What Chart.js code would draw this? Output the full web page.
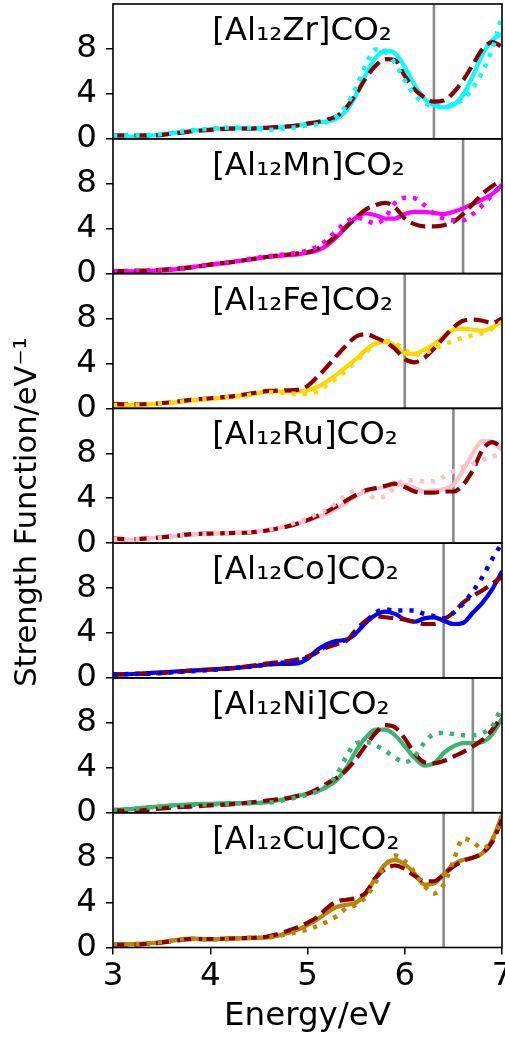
<!DOCTYPE html>
<html>
<head>
<meta charset="utf-8">
<script src="https://cdn.jsdelivr.net/npm/chart.js@4.4.1/dist/chart.umd.min.js"></script>
<style>
  html, body { margin: 0; padding: 0; background: #ffffff; }
  canvas { display: block; }
</style>
</head>
<body>
<canvas id="chart" width="505" height="1039"></canvas>
<script>
// Photon energy grid (eV)
const energy = [3.0, 3.2, 3.4, 3.6, 3.8, 4.0, 4.2, 4.4, 4.6, 4.8, 4.9, 5.0, 5.1, 5.2, 5.3, 5.4,
                5.5, 5.6, 5.7, 5.8, 5.9, 6.0, 6.1, 6.2, 6.3, 6.4, 6.5, 6.6, 6.7, 6.8, 6.9, 7.0];

const panelTitles = ['[Al₁₂Zr]CO₂', '[Al₁₂Mn]CO₂', '[Al₁₂Fe]CO₂', '[Al₁₂Ru]CO₂',
                     '[Al₁₂Co]CO₂', '[Al₁₂Ni]CO₂', '[Al₁₂Cu]CO₂'];

// Strength function (eV^-1), one array per cluster and curve type
const solidZr  = [0.2,0.2,0.3,0.5,0.7, 0.85,0.95,0.95,0.95,1.1, 1.2,1.35,1.45,1.55,1.8, 2.5,3.9,5.7,7.2,7.85, 7.6,6.4,4.8,3.6,3.0, 2.8,3.0,3.9,5.6,7.5, 8.8,9.3];
const dottedZr = [0.3,0.3,0.35,0.5,0.75, 0.9,1.0,0.95,0.8,0.95, 1.05,1.2,1.3,1.5,2.0, 3.0,4.6,6.6,7.95,7.7, 6.7,5.2,3.9,3.2,2.9, 2.9,3.1,3.5,4.5,6.0, 8.0,11.0];
const dashedZr = [0.3,0.3,0.3,0.45,0.65, 0.8,0.9,0.9,1.0,1.1, 1.2,1.35,1.5,1.7,2.0, 2.8,4.0,5.4,6.5,7.1, 7.0,5.6,4.4,3.7,3.3, 3.4,4.1,5.2,6.6,8.0, 8.6,8.2];

const solidMn  = [0.2,0.2,0.25,0.35,0.55, 0.8,1.0,1.25,1.5,1.65, 1.7,1.85,2.05,2.5,3.25, 4.15,5.0,5.35,5.2,4.9, 4.9,5.3,5.5,5.5,5.4, 5.3,5.5,5.8,6.2,6.6, 7.1,7.9];
const dottedMn = [0.2,0.2,0.25,0.35,0.55, 0.8,1.0,1.3,1.55,1.75, 1.85,2.05,2.4,3.0,3.85, 4.6,5.0,4.75,4.45,5.0, 6.3,6.75,6.7,6.1,5.35, 4.9,4.75,4.75,5.3,6.1, 7.0,7.9];
const dashedMn = [0.2,0.25,0.3,0.4,0.55, 0.8,1.0,1.25,1.5,1.7, 1.8,1.9,2.2,2.7,3.4, 4.2,5.0,5.7,6.1,6.3, 5.9,4.9,4.4,4.2,4.2, 4.3,4.6,5.3,6.2,7.1, 7.8,8.3];

const solidFe  = [0.3,0.3,0.4,0.5,0.7, 0.85,1.0,1.2,1.5,1.5, 1.5,1.6,1.9,2.4,3.0, 3.7,4.4,5.2,5.8,5.9, 5.6,4.9,4.85,5.2,5.7, 6.4,7.0,7.1,7.0,6.9, 7.2,7.8];
const dottedFe = [0.3,0.3,0.4,0.5,0.7, 0.85,1.0,1.2,1.45,1.35, 1.3,1.3,1.5,2.1,2.7, 3.4,4.2,5.0,5.7,6.0, 5.8,5.2,4.8,4.9,5.3, 5.7,6.0,6.3,6.5,6.7, 7.1,7.7];
const dashedFe = [0.4,0.35,0.4,0.55,0.75, 0.9,1.05,1.3,1.55,1.6, 1.65,2.0,2.8,3.7,4.7, 5.6,6.4,6.6,6.3,5.9, 5.3,4.4,4.1,4.5,5.3, 6.3,7.2,7.8,7.9,7.8, 7.6,8.0];

const solidRu  = [0.3,0.3,0.45,0.6,0.75, 0.85,0.9,0.95,1.2,1.55, 1.75,2.0,2.3,2.6,3.1, 3.6,4.2,4.6,4.85,5.0, 5.2,5.2,4.9,4.6,4.7, 4.8,5.2,6.5,8.0,9.1, 9.0,8.3];
const dottedRu = [0.35,0.35,0.45,0.6,0.8, 0.85,0.9,1.0,1.2,1.6, 1.9,2.2,2.6,3.0,3.6, 4.3,4.7,4.5,4.0,4.2, 5.0,5.6,5.6,5.5,5.5, 5.9,6.4,6.8,7.1,7.4, 7.7,8.0];
const dashedRu = [0.4,0.35,0.45,0.6,0.8, 0.85,0.9,0.95,1.15,1.5, 1.75,2.05,2.4,2.8,3.3, 3.8,4.3,4.7,4.9,5.1, 5.3,5.0,4.6,4.5,4.5, 4.6,4.6,5.2,6.5,8.3, 9.0,8.5];

const solidCo  = [0.3,0.35,0.45,0.55,0.65, 0.75,0.85,1.0,1.2,1.25, 1.3,1.7,2.5,3.0,3.3, 3.4,4.0,4.9,5.6,5.9, 5.7,5.2,5.0,5.3,5.4, 5.1,4.8,4.9,5.8,6.7, 7.9,9.5];
const dottedCo = [0.3,0.35,0.4,0.5,0.6, 0.7,0.85,1.0,1.2,1.4, 1.5,1.8,2.3,2.9,3.2, 3.4,4.0,5.0,5.8,6.1, 6.0,6.0,6.0,5.7,5.5, 5.3,5.8,6.6,7.7,9.0, 10.6,12.0];
const dashedCo = [0.3,0.35,0.4,0.5,0.65, 0.75,0.85,1.05,1.3,1.5, 1.65,1.9,2.3,2.7,3.0, 3.3,4.3,5.1,5.5,5.4, 5.3,5.2,5.0,4.8,4.8, 5.2,5.8,6.7,7.3,7.8, 8.4,9.0];

const solidNi  = [0.25,0.35,0.5,0.65,0.75, 0.8,0.85,0.85,0.95,1.3, 1.5,1.7,1.9,2.3,2.9, 4.0,5.5,6.7,7.4,7.4, 6.9,5.9,4.9,4.2,4.4, 5.3,5.9,6.2,6.2,6.3, 7.0,8.4];
const dottedNi = [0.25,0.35,0.5,0.6,0.7, 0.75,0.8,0.85,0.9,1.2, 1.4,1.6,1.9,2.4,3.4, 5.0,6.2,6.3,6.0,5.5, 4.9,4.5,5.0,6.2,7.0, 7.1,7.0,6.9,6.9,7.1, 7.7,9.5];
const dashedNi = [0.2,0.15,0.3,0.45,0.55, 0.65,0.75,0.9,1.1,1.3, 1.5,1.7,2.1,2.6,3.1, 3.8,4.8,6.0,7.1,7.8, 7.6,6.6,5.3,4.5,4.4, 4.6,5.0,5.4,5.9,6.5, 7.4,8.6];

const solidCu  = [0.25,0.3,0.4,0.6,0.8, 0.75,0.8,0.85,0.9,1.3, 1.6,2.0,2.5,3.1,3.6, 3.8,4.0,4.8,6.2,7.4, 7.8,7.4,6.6,5.6,5.7, 6.5,7.4,7.8,8.0,8.4, 9.6,11.8];
const dottedCu = [0.3,0.3,0.4,0.6,0.8, 0.7,0.75,0.85,0.9,1.2, 1.4,1.6,1.9,2.3,2.8, 3.5,3.8,4.5,5.8,7.3, 8.2,7.7,6.7,5.5,4.8, 5.6,7.7,9.7,9.4,8.8, 9.6,11.5];
const dashedCu = [0.25,0.25,0.35,0.55,0.75, 0.75,0.8,0.85,1.0,1.5, 1.8,2.2,2.7,3.5,4.1, 4.25,4.4,4.9,6.2,7.0, 7.3,7.0,6.4,5.9,5.9, 6.5,7.2,7.7,8.0,8.4, 9.4,11.4];

// Reference energies marked by a vertical line in each panel (eV)
const markerEnergy = [6.3, 6.6, 6.0, 6.5, 6.4, 6.7, 6.4];

// Axis limits and ticks
const xRange = [3, 7];
const yRange = [0, 12];
const xTicks = [3, 4, 5, 6, 7];
const yTicks = [0, 4, 8];

const solidSets  = [solidZr, solidMn, solidFe, solidRu, solidCo, solidNi, solidCu];
const dottedSets = [dottedZr, dottedMn, dottedFe, dottedRu, dottedCo, dottedNi, dottedCu];
const dashedSets = [dashedZr, dashedMn, dashedFe, dashedRu, dashedCo, dashedNi, dashedCu];
const panelColors = ['#00ffff', '#ff00ff', '#ffd700', '#ffc0cb', '#0000ff', '#3cb371', '#b8860b'];
const dashedColor = '#8b0000';
const markerColor = '#8a8a8a';

const FONT = '"DejaVu Sans", "Noto Sans", sans-serif';
const FONT_SIZE = 32.5;
const YLABEL_SIZE = 30.5;

const toPoints = vals => energy.map((e, j) => ({ x: e, y: vals[j] }));

const datasets = [];
const scales = {
  x: {
    type: 'linear',
    min: xRange[0],
    max: xRange[1],
    position: 'bottom',
    afterBuildTicks: s => { s.ticks = xTicks.map(v => ({ value: v })); },
    afterFit: s => { s.height = 91.5; s.paddingLeft = 0; s.paddingRight = 0; },
    ticks: { autoSkip: false, maxRotation: 0, color: '#000', padding: 3,
             font: { family: FONT, size: FONT_SIZE } },
    grid: { drawOnChartArea: false, drawTicks: true, tickLength: 7, color: '#000', tickWidth: 1.5, lineWidth: 1.5 },
    border: { display: false },
    title: { display: true, text: 'Energy/eV', color: '#000', padding: { top: 0, bottom: 3 },
             font: { family: FONT, size: FONT_SIZE } }
  }
};

// Stacked left axes are laid out bottom-up in definition order,
// so the bottom panel's axis is defined first.
const panelIds = panelTitles.map((t, i) => 'y' + i);
for (let i = panelTitles.length - 1; i >= 0; i--) {
  scales[panelIds[i]] = {
    type: 'linear',
    position: 'left',
    stack: 'panels',
    stackWeight: 1,
    min: yRange[0],
    max: yRange[1],
    afterBuildTicks: s => { s.ticks = yTicks.map(v => ({ value: v })); },
    afterFit: s => { s.width = 113; s.paddingTop = 0; s.paddingBottom = 0; },
    ticks: { autoSkip: false, color: '#000', padding: 9, font: { family: FONT, size: FONT_SIZE } },
    grid: { drawOnChartArea: false, drawTicks: true, tickLength: 7, color: '#000', tickWidth: 1.5, lineWidth: 1.5 },
    border: { display: false }
  };
}

panelTitles.forEach((t, i) => {
  const id = panelIds[i];
  datasets.push({
    label: t + ' marker',
    data: [{ x: markerEnergy[i], y: yRange[0] }, { x: markerEnergy[i], y: yRange[1] }],
    yAxisID: id, borderColor: markerColor, borderWidth: 2.6, pointRadius: 0, order: 3
  });
  datasets.push({
    label: t + ' solid',
    data: toPoints(solidSets[i]),
    yAxisID: id, borderColor: panelColors[i], borderWidth: 4.2, pointRadius: 0,
    cubicInterpolationMode: 'monotone', order: 2
  });
  datasets.push({
    label: t + ' dashed',
    data: toPoints(dashedSets[i]),
    yAxisID: id, borderColor: dashedColor, borderWidth: 4.2, pointRadius: 0,
    borderDash: [15, 6.5], borderCapStyle: 'butt',
    cubicInterpolationMode: 'monotone', order: 1
  });
  datasets.push({
    label: t + ' dotted',
    data: toPoints(dottedSets[i]),
    yAxisID: id, borderColor: panelColors[i], borderWidth: 4.5, pointRadius: 0,
    borderDash: [4.2, 7], borderCapStyle: 'butt',
    cubicInterpolationMode: 'monotone', order: 0
  });
});

// Panel frames, panel titles and the shared y-axis label
const panelDecor = {
  id: 'panelDecor',
  afterDatasetsDraw(chart) {
    const ctx = chart.ctx;
    const a = chart.chartArea;
    ctx.save();
    ctx.strokeStyle = '#000';
    ctx.lineWidth = 1.6;
    panelIds.forEach(id => {
      const s = chart.scales[id];
      ctx.strokeRect(a.left, s.top, a.right - a.left, s.bottom - s.top);
    });
    ctx.fillStyle = '#000';
    ctx.font = FONT_SIZE + 'px ' + FONT;
    ctx.textAlign = 'left';
    ctx.textBaseline = 'alphabetic';
    panelIds.forEach((id, i) => {
      const s = chart.scales[id];
      ctx.fillText(panelTitles[i], a.left + 0.255 * (a.right - a.left), s.top + 36);
    });
    ctx.font = YLABEL_SIZE + 'px ' + FONT;
    ctx.translate(28, 512);
    ctx.rotate(-Math.PI / 2);
    ctx.textAlign = 'center';
    ctx.textBaseline = 'middle';
    ctx.fillText('Strength Function/eV⁻¹', 0, 0);
    ctx.restore();
  }
};

new Chart(document.getElementById('chart'), {
  type: 'line',
  data: { datasets },
  options: {
    responsive: false,
    animation: false,
    devicePixelRatio: 1,
    layout: { padding: { top: 4, right: 3, bottom: 0, left: 0 } },
    plugins: { legend: { display: false }, tooltip: { enabled: false } },
    scales
  },
  plugins: [panelDecor]
});
</script>
</body>
</html>
